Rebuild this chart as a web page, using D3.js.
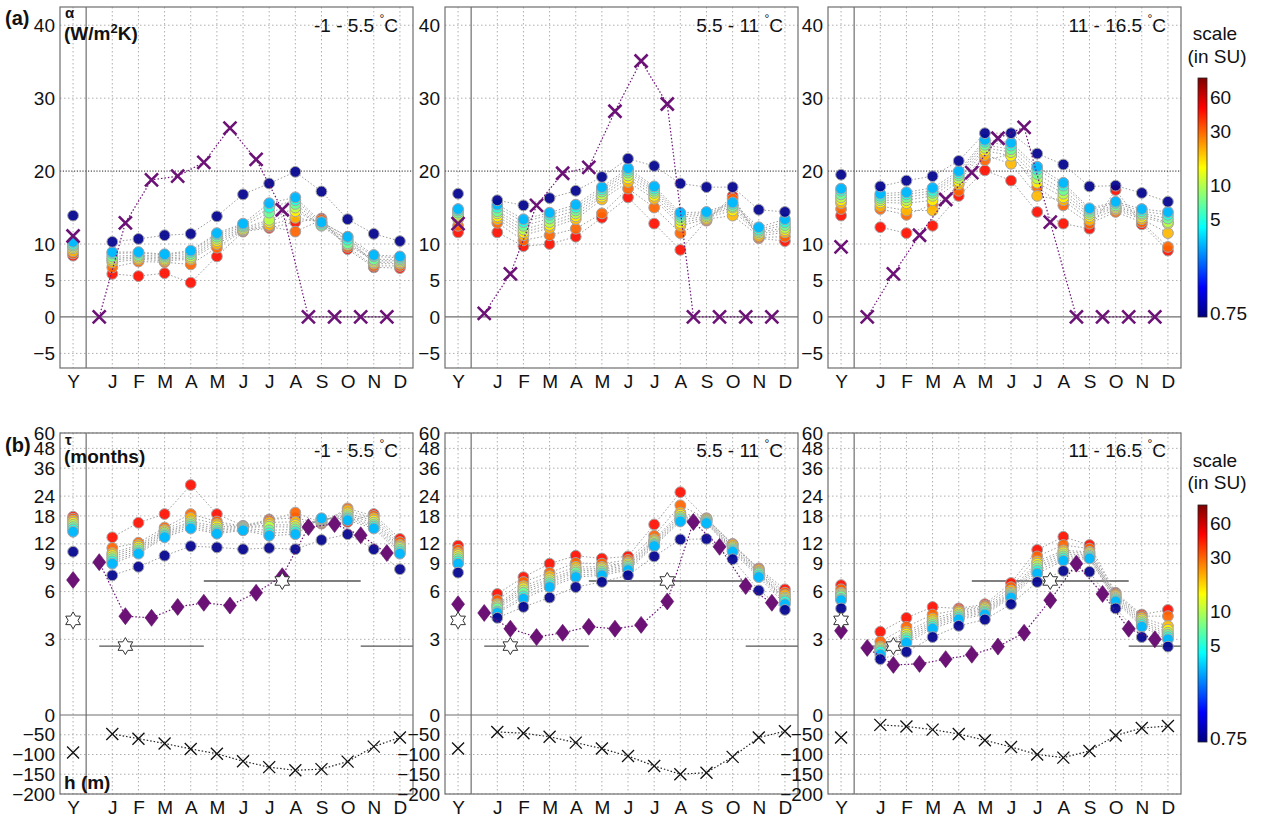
<!DOCTYPE html>
<html>
<head>
<meta charset="utf-8">
<script src="https://cdn.jsdelivr.net/npm/d3@7"></script>
<style>
  body { margin: 0; background: #fff; }
  svg { font-family: "Liberation Sans", Arial, Helvetica, sans-serif; }
</style>
</head>
<body>
<svg id="fig" width="1262" height="820"></svg>
<script>
//================== Data ==================
var months = ["Y", "J", "F", "M", "A", "M", "J", "J", "A", "S", "O", "N", "D"];
var monthPos = [-0.5, 1, 2, 3, 4, 5, 6, 7, 8, 9, 10, 11, 12];
var halfPos = [-0.5, 0.5, 1.5, 2.5, 3.5, 4.5, 5.5, 6.5, 7.5, 8.5, 9.5, 10.5, 11.5];
var scales = [0.75, 3, 5, 7, 10, 15, 20, 30, 45];          // SU, one per dot series
var ranges = ["-1 - 5.5", "5.5 - 11", "11 - 16.5"];
var alphaTicks = [40, 30, 20, 10, 5, 0, -5];
var tauTicks = [60, 48, 36, 24, 18, 12, 9, 6, 3];
var hTicks = [0, -50, -100, -150, -200];
var cbTicks = [60, 30, 10, 5, 0.75];

// alpha (W/m2K): rows = Y,J..D ; columns = scales
var alpha1 = [
  [13.9, 10.3, 10.0, 9.8, 9.6, 9.4, 9.0, 8.7, 8.4],
  [10.3, 8.9, 8.7, 8.3, 8.0, 7.8, 7.5, 6.8, 5.9],
  [10.7, 8.9, 8.8, 8.5, 8.3, 8.1, 7.9, 7.6, 5.6],
  [11.2, 8.6, 8.5, 8.3, 8.1, 7.9, 7.7, 7.5, 6.0],
  [11.4, 9.1, 8.9, 8.6, 8.3, 8.1, 7.9, 7.2, 4.7],
  [13.8, 11.5, 11.3, 11.0, 10.7, 10.4, 10.0, 9.5, 8.3],
  [16.8, 12.8, 12.6, 12.4, 12.2, 12.0, 11.9, 11.8, 11.7],
  [18.3, 15.6, 15.0, 14.3, 13.3, 13.0, 12.6, 12.4, 12.2],
  [19.9, 16.4, 16.0, 15.5, 15.0, 14.5, 13.6, 11.7, 13.0],
  [17.2, 13.0, 12.8, 12.6, 12.5, 12.7, 13.0, 13.3, 13.5],
  [13.4, 11.0, 10.6, 10.1, 9.9, 10.5, 11.0, 9.6, 9.3],
  [11.4, 8.5, 8.3, 7.9, 7.7, 7.5, 7.3, 7.0, 6.8],
  [10.4, 8.3, 8.1, 7.9, 7.7, 7.5, 7.3, 7.0, 6.7]
];
var alpha2 = [
  [16.9, 14.8, 14.6, 14.3, 14.0, 13.7, 13.4, 12.5, 11.6],
  [16.0, 15.4, 15.0, 14.5, 14.2, 13.8, 13.4, 12.9, 11.6],
  [15.3, 13.4, 13.0, 12.5, 12.0, 11.6, 11.2, 10.5, 9.7],
  [16.3, 14.3, 14.0, 13.5, 13.0, 12.6, 12.2, 11.2, 10.0],
  [17.3, 15.4, 15.0, 14.6, 14.2, 13.8, 13.4, 12.1, 11.0],
  [19.2, 17.8, 17.5, 17.2, 16.8, 16.5, 16.1, 14.2, 13.6],
  [21.7, 20.4, 20.1, 19.8, 19.4, 19.0, 18.5, 17.6, 16.4],
  [20.7, 17.9, 17.6, 17.3, 17.0, 16.6, 16.2, 15.0, 12.8],
  [18.3, 14.3, 14.0, 13.7, 13.3, 12.9, 12.5, 11.5, 9.2],
  [17.8, 14.4, 14.2, 14.0, 13.8, 13.6, 13.4, 13.3, 13.2],
  [17.8, 15.7, 15.5, 15.2, 15.0, 14.6, 13.9, 16.2, 16.6],
  [14.7, 12.3, 12.0, 11.8, 11.6, 11.4, 11.1, 10.9, 10.8],
  [14.4, 13.4, 13.0, 12.6, 12.2, 11.9, 11.6, 11.0, 10.4]
];
var alpha3 = [
  [19.5, 17.6, 17.3, 16.8, 16.4, 16.0, 15.6, 14.8, 13.9],
  [17.9, 16.9, 16.6, 16.3, 16.0, 15.7, 15.2, 14.8, 12.3],
  [18.7, 17.1, 16.8, 16.4, 16.0, 15.6, 14.6, 14.0, 11.5],
  [19.3, 17.7, 17.3, 17.0, 16.6, 16.0, 14.6, 15.4, 12.5],
  [21.4, 20.0, 19.7, 19.4, 19.0, 18.6, 18.2, 17.3, 16.6],
  [25.2, 24.3, 24.0, 23.6, 23.2, 22.8, 22.2, 21.5, 20.1],
  [25.2, 23.9, 23.5, 23.0, 22.6, 22.1, 21.0, 22.3, 18.7],
  [22.4, 20.6, 20.2, 19.6, 19.0, 18.4, 16.6, 17.8, 14.4],
  [20.9, 18.4, 18.0, 17.4, 16.9, 16.4, 16.0, 15.3, 12.8],
  [17.9, 14.9, 14.7, 14.4, 14.1, 13.8, 13.3, 12.8, 12.1],
  [18.0, 15.8, 15.6, 15.3, 15.1, 14.9, 14.7, 14.4, 17.4],
  [17.0, 14.8, 14.5, 14.2, 14.0, 13.7, 13.4, 13.0, 12.7],
  [15.8, 14.4, 14.0, 13.5, 13.0, 12.8, 11.5, 9.6, 9.1]
];

// tau (months): rows = Y,J..D ; columns = scales
var tau1 = [
  [10.7, 14.3, 14.8, 15.3, 15.8, 16.3, 16.8, 17.3, 17.8],
  [7.6, 9.0, 9.3, 9.6, 9.9, 10.2, 10.5, 11.3, 13.2],
  [8.6, 10.4, 10.6, 10.9, 11.2, 11.5, 11.8, 12.2, 16.3],
  [10.1, 13.2, 13.5, 13.8, 14.1, 14.4, 14.7, 15.2, 18.5],
  [11.6, 15.0, 15.4, 15.8, 16.2, 16.6, 17.5, 18.5, 28.2],
  [11.4, 13.9, 14.2, 14.6, 15.0, 15.5, 16.0, 16.6, 18.5],
  [11.1, 14.6, 14.8, 15.0, 15.2, 15.3, 15.4, 15.5, 15.6],
  [11.3, 13.5, 14.0, 14.6, 15.4, 15.8, 16.4, 16.8, 17.1],
  [11.1, 13.8, 14.3, 14.8, 15.3, 15.8, 16.5, 18.9, 17.5],
  [12.7, 17.4, 17.3, 17.1, 16.9, 16.7, 16.5, 16.3, 16.1],
  [13.8, 16.9, 17.3, 17.7, 18.2, 18.7, 19.5, 20.1, 16.5],
  [11.1, 15.0, 15.4, 15.8, 16.3, 16.8, 17.4, 18.0, 18.5],
  [8.3, 10.4, 10.7, 11.0, 11.3, 11.5, 11.8, 12.3, 12.9]
];
var tau2 = [
  [7.9, 9.0, 9.3, 9.6, 9.9, 10.2, 10.5, 11.0, 11.7],
  [4.1, 4.4, 4.5, 4.7, 4.8, 4.9, 5.0, 5.3, 5.8],
  [4.8, 5.4, 5.6, 5.9, 6.1, 6.3, 6.5, 6.9, 7.4],
  [5.5, 6.4, 6.6, 6.8, 7.0, 7.2, 7.5, 7.9, 9.0],
  [6.4, 7.4, 7.6, 7.9, 8.1, 8.3, 8.6, 9.1, 10.1],
  [6.9, 7.6, 7.8, 8.0, 8.2, 8.4, 8.6, 9.0, 9.7],
  [7.6, 8.2, 8.4, 8.6, 8.8, 9.0, 9.2, 9.5, 10.0],
  [10.0, 11.6, 11.8, 12.0, 12.3, 12.5, 12.8, 13.5, 15.9],
  [12.8, 16.6, 17.0, 17.4, 17.8, 18.3, 18.9, 21.0, 25.4],
  [12.9, 16.2, 16.4, 16.6, 16.8, 17.0, 17.2, 17.3, 17.4],
  [9.6, 10.7, 10.9, 11.1, 11.3, 11.5, 11.8, 11.9, 12.0],
  [6.1, 7.4, 7.6, 7.8, 7.9, 8.0, 8.2, 8.3, 8.4],
  [4.6, 5.0, 5.2, 5.3, 5.4, 5.5, 5.7, 5.9, 6.2]
];
var tau3 = [
  [4.7, 5.3, 5.4, 5.6, 5.7, 5.8, 5.9, 6.2, 6.6],
  [2.25, 2.4, 2.5, 2.55, 2.6, 2.65, 2.7, 2.9, 3.35],
  [2.5, 2.85, 2.95, 3.05, 3.15, 3.25, 3.35, 3.6, 4.1],
  [3.1, 3.5, 3.6, 3.7, 3.8, 3.9, 4.05, 4.3, 4.8],
  [3.65, 4.0, 4.1, 4.2, 4.3, 4.4, 4.5, 4.6, 4.7],
  [4.0, 4.3, 4.4, 4.5, 4.6, 4.7, 4.8, 4.9, 5.0],
  [5.0, 5.5, 5.6, 5.7, 5.8, 5.9, 6.1, 6.4, 6.8],
  [6.9, 7.8, 8.1, 8.4, 8.7, 9.0, 9.3, 10.0, 11.0],
  [8.1, 9.4, 9.7, 10.0, 10.3, 10.6, 10.9, 11.8, 13.3],
  [8.0, 9.7, 9.9, 10.1, 10.3, 10.5, 10.7, 11.2, 11.8],
  [4.7, 5.2, 5.3, 5.4, 5.5, 5.6, 5.7, 5.8, 5.9],
  [3.1, 3.6, 3.7, 3.8, 3.9, 4.0, 4.1, 4.2, 4.3],
  [2.7, 3.0, 3.1, 3.2, 3.3, 3.45, 3.64, 4.2, 4.6]
];

// purple crosses (alpha), at Y and half-month positions
var alphaX1 = [11.1, 0, 12.9, 18.8, 19.3, 21.2, 25.9, 21.6, 14.7, 0, 0, 0, 0];
var alphaX2 = [12.8, 0.5, 5.9, 15.3, 19.7, 20.5, 28.2, 35.1, 29.2, 0, 0, 0, 0];
var alphaX3 = [9.6, 0, 5.9, 11.2, 16.1, 19.8, 24.5, 26.0, 13.0, 0, 0, 0, 0];

// purple diamonds (tau), at Y and half-month positions
var tauD1 = [7.1, 9.2, 4.2, 4.1, 4.8, 5.1, 4.9, 5.9, 7.5, 15.3, 16.0, 13.6, 10.5];
var tauD2 = [5.0, 4.4, 3.5, 3.1, 3.3, 3.6, 3.5, 3.7, 5.2, 16.5, 11.5, 6.5, 5.1];
var tauD3 = [3.4, 2.65, 2.07, 2.1, 2.25, 2.4, 2.7, 3.3, 5.3, 9.0, 5.8, 3.5, 3.0];

// mixed layer depth h (m)
var depth1 = [-95, -48, -60, -72, -86, -98, -117, -132, -140, -137, -118, -80, -57];
var depth2 = [-85, -43, -46, -55, -70, -85, -104, -129, -150, -146, -106, -57, -41];
var depth3 = [-57, -25, -29, -37, -48, -64, -81, -100, -108, -91, -52, -33, -28];

// stars and step levels (tau)
var starPos = [-0.5, 1.5, 7.5];
var starTau = [3.95, 2.72, 7.0];
var stepFrom = [0.5, 4.5, 10.5];
var stepTo = [4.5, 10.5, 12.5];
var stepTau = [2.72, 7.0, 2.72];

var alphaAll = [alpha1, alpha2, alpha3];
var tauAll = [tau1, tau2, tau3];
var alphaXAll = [alphaX1, alphaX2, alphaX3];
var tauDAll = [tauD1, tauD2, tauD3];
var depthAll = [depth1, depth2, depth3];

//================== Layout ==================
var svg = d3.select("#fig");
var panelLeft = [60, 445, 828];
var panelW = 353;
var rowA = { top: 7, bottom: 368 };
var rowB = { top: 433, bottom: 794, split: 715 };
var purple = "#6c1277";
var fontSize = 19;

var x = d3.scaleLinear().domain([-1, 12.5]).range([0, panelW]);
var yA = d3.scaleLinear().domain([-7, 42.5]).range([rowA.bottom, rowA.top]);
var yTau = d3.scaleLog().domain([1, 60]).range([rowB.split, rowB.top]);
var yH = d3.scaleLinear().domain([0, -200]).range([rowB.split, rowB.bottom]);
var cbT = d3.scaleLog().domain([0.7, 88]).range([0, 1]);

function jet(t) {
  var c = function(v) { return Math.round(255 * Math.max(0, Math.min(1, v))); };
  var r = Math.min(4 * t - 1.5, -4 * t + 4.5);
  var g = Math.min(4 * t - 0.5, -4 * t + 3.5);
  var b = Math.min(4 * t + 0.5, -4 * t + 2.5);
  return "rgb(" + c(r) + "," + c(g) + "," + c(b) + ")";
}
var dotColor = function(s) { return jet(cbT(s)); };

// symbols
var crossPath = function(s) { return "M" + (-s) + "," + (-s) + "L" + s + "," + s + "M" + (-s) + "," + s + "L" + s + "," + (-s); };
var diamondPath = "M0,-8.5L6.5,0L0,8.5L-6.5,0Z";
function hexagram(R) {
  var pts = [];
  for (var i = 0; i < 12; i++) {
    var a = -Math.PI / 2 + i * Math.PI / 6;
    var rad = i % 2 ? R / Math.sqrt(3) : R;
    pts.push([rad * Math.cos(a), rad * Math.sin(a)]);
  }
  return "M" + pts.map(function(p) { return p[0].toFixed(2) + "," + p[1].toFixed(2); }).join("L") + "Z";
}

function styleAxis(a) {
  a.attr("font-size", fontSize).attr("font-family", null);
  a.select(".domain").remove();
  a.selectAll("text").attr("fill", "#111");
}

function titleText(g, label, xr, yb) {
  var t = g.append("text").attr("x", xr).attr("y", yb).attr("text-anchor", "end")
    .attr("font-size", fontSize).attr("fill", "#111");
  t.append("tspan").text(label + " ");
  t.append("tspan").attr("dy", -9).attr("font-size", 12).text("°");
  t.append("tspan").attr("dy", 9).text("C");
}

function grid(g, top, bottom, yVals, yFn) {
  g.selectAll("line.vgrid").data(monthPos).enter().append("line")
    .attr("x1", d => x(d)).attr("x2", d => x(d)).attr("y1", top).attr("y2", bottom)
    .attr("stroke", "#9a9a9a").attr("stroke-width", 0.8).attr("stroke-dasharray", "1.5,2.5");
  g.selectAll("line.hgrid").data(yVals).enter().append("line")
    .attr("x1", 0).attr("x2", panelW).attr("y1", d => yFn(d)).attr("y2", d => yFn(d))
    .attr("stroke", "#9a9a9a").attr("stroke-width", 0.8).attr("stroke-dasharray", "1.5,2.5");
}

function dots(g, table, yFn) {
  // connecting dotted lines J..D for each scale
  scales.forEach(function(s, k) {
    var pts = table.slice(1).map(function(row, i) { return [monthPos[i + 1], row[k]]; });
    g.append("path").datum(pts)
      .attr("d", d3.line().x(d => x(d[0])).y(d => yFn(d[1])))
      .attr("fill", "none").attr("stroke", "#9c9c9c").attr("stroke-width", 1)
      .attr("stroke-dasharray", "1.5,2");
  });
  var flat = [];
  for (var k = scales.length - 1; k >= 0; k--) {
    table.forEach(function(row, i) { flat.push({ p: monthPos[i], v: row[k], s: scales[k] }); });
  }
  g.selectAll("circle.dot").data(flat).enter().append("circle")
    .attr("cx", d => x(d.p)).attr("cy", d => yFn(d.v)).attr("r", 5.4)
    .attr("fill", d => dotColor(d.s)).attr("fill-opacity", 0.92)
    .attr("stroke", "#a4a4a4").attr("stroke-width", 1);
}

function frame(g, top, bottom) {
  g.append("line").attr("x1", x(0)).attr("x2", x(0)).attr("y1", top).attr("y2", bottom)
    .attr("stroke", "#6e6e6e").attr("stroke-width", 1.2);
  g.append("rect").attr("x", 0).attr("y", top).attr("width", panelW).attr("height", bottom - top)
    .attr("fill", "none").attr("stroke", "#6e6e6e").attr("stroke-width", 1.2);
}

//================== Row (a): alpha ==================
[0, 1, 2].forEach(function(p) {
  var g = svg.append("g").attr("transform", "translate(" + panelLeft[p] + ",0)");
  grid(g, rowA.top, rowA.bottom, alphaTicks.filter(d => d !== 0 && d !== 20), yA);
  g.append("line").attr("x1", 0).attr("x2", panelW).attr("y1", yA(20)).attr("y2", yA(20))
    .attr("stroke", "#222").attr("stroke-width", 1).attr("stroke-dasharray", "1.2,1.6");
  g.append("line").attr("x1", 0).attr("x2", panelW).attr("y1", yA(0)).attr("y2", yA(0))
    .attr("stroke", "#6e6e6e").attr("stroke-width", 1.2);

  dots(g, alphaAll[p], yA);

  // purple crosses
  var xs = alphaXAll[p].map((v, i) => [halfPos[i], v]);
  g.append("path").datum(xs.slice(1))
    .attr("d", d3.line().x(d => x(d[0])).y(d => yA(d[1])))
    .attr("fill", "none").attr("stroke", purple).attr("stroke-width", 1.2).attr("stroke-dasharray", "1.5,2");
  g.selectAll("path.px").data(xs).enter().append("path")
    .attr("transform", d => "translate(" + x(d[0]) + "," + yA(d[1]) + ")")
    .attr("d", crossPath(6.5)).attr("stroke", purple).attr("stroke-width", 2.6).attr("fill", "none");

  frame(g, rowA.top, rowA.bottom);

  g.append("g").call(d3.axisLeft(yA).tickValues(alphaTicks).tickSize(0).tickPadding(5)).call(styleAxis);
  g.append("g").attr("transform", "translate(0," + rowA.bottom + ")")
    .call(d3.axisBottom(x).tickValues(monthPos).tickFormat((d, i) => months[i]).tickSize(0).tickPadding(7))
    .call(styleAxis);

  titleText(g, ranges[p], panelW - 15, 32);
});

//================== Row (b): tau and h ==================
[0, 1, 2].forEach(function(p) {
  var g = svg.append("g").attr("transform", "translate(" + panelLeft[p] + ",0)");
  grid(g, rowB.top, rowB.bottom, tauTicks, yTau);
  g.selectAll("line.hg").data(hTicks.filter(d => d !== 0)).enter().append("line")
    .attr("x1", 0).attr("x2", panelW).attr("y1", d => yH(d)).attr("y2", d => yH(d))
    .attr("stroke", "#9a9a9a").attr("stroke-width", 0.8).attr("stroke-dasharray", "1.5,2.5");
  g.append("line").attr("x1", 0).attr("x2", panelW).attr("y1", yH(0)).attr("y2", yH(0))
    .attr("stroke", "#6e6e6e").attr("stroke-width", 1.2);

  // step levels
  stepTau.forEach(function(t, i) {
    g.append("line").attr("x1", x(stepFrom[i])).attr("x2", x(stepTo[i]))
      .attr("y1", yTau(t)).attr("y2", yTau(t))
      .attr("stroke", "#555").attr("stroke-width", 1.4);
  });

  dots(g, tauAll[p], yTau);

  // purple diamonds
  var ds = tauDAll[p].map((v, i) => [halfPos[i], v]);
  g.append("path").datum(ds.slice(1))
    .attr("d", d3.line().x(d => x(d[0])).y(d => yTau(d[1])))
    .attr("fill", "none").attr("stroke", purple).attr("stroke-width", 1.2).attr("stroke-dasharray", "1.5,2");
  g.selectAll("path.dm").data(ds).enter().append("path")
    .attr("transform", d => "translate(" + x(d[0]) + "," + yTau(d[1]) + ")")
    .attr("d", diamondPath).attr("fill", purple).attr("stroke", "#5a0c63").attr("stroke-width", 0.6);

  // stars
  g.selectAll("path.st").data(starPos).enter().append("path")
    .attr("transform", (d, i) => "translate(" + x(d) + "," + yTau(starTau[i]) + ")")
    .attr("d", hexagram(8.5)).attr("fill", "#fff").attr("stroke", "#333").attr("stroke-width", 1);

  // depth crosses
  var hs = depthAll[p].map((v, i) => [monthPos[i], v]);
  g.append("path").datum(hs.slice(1))
    .attr("d", d3.line().x(d => x(d[0])).y(d => yH(d[1])))
    .attr("fill", "none").attr("stroke", "#222").attr("stroke-width", 1.2).attr("stroke-dasharray", "1.5,2");
  g.selectAll("path.hx").data(hs).enter().append("path")
    .attr("transform", d => "translate(" + x(d[0]) + "," + yH(d[1]) + ")")
    .attr("d", crossPath(6)).attr("stroke", "#111").attr("stroke-width", 1.3).attr("fill", "none");

  frame(g, rowB.top, rowB.bottom);

  g.append("g").call(d3.axisLeft(yTau).tickValues(tauTicks).tickFormat(d3.format("d")).tickSize(0).tickPadding(5)).call(styleAxis);
  g.append("g").call(d3.axisLeft(yH).tickValues(hTicks).tickFormat(d3.format("d")).tickSize(0).tickPadding(5)).call(styleAxis);
  g.append("g").attr("transform", "translate(0," + rowB.bottom + ")")
    .call(d3.axisBottom(x).tickValues(monthPos).tickFormat((d, i) => months[i]).tickSize(0).tickPadding(7))
    .call(styleAxis);

  titleText(g, ranges[p], panelW - 15, 457);
});

//================== Labels ==================
var lab = svg.append("g").attr("fill", "#111").attr("font-weight", "bold");
lab.append("text").attr("x", 5).attr("y", 25).attr("font-size", 20).text("(a)");
lab.append("text").attr("x", 65).attr("y", 18).attr("font-size", 15).text("α");
var wl = lab.append("text").attr("x", 64).attr("y", 40).attr("font-size", fontSize);
wl.append("tspan").text("(W/m");
wl.append("tspan").attr("dy", -7).attr("font-size", 13).text("2");
wl.append("tspan").attr("dy", 7).text("K)");
lab.append("text").attr("x", 5).attr("y", 452).attr("font-size", 20).text("(b)");
lab.append("text").attr("x", 65).attr("y", 445).attr("font-size", 15).text("τ");
lab.append("text").attr("x", 64).attr("y", 463).attr("font-size", fontSize).text("(months)");
lab.append("text").attr("x", 64).attr("y", 789).attr("font-size", fontSize).text("h (m)");

//================== Colorbars ==================
var defs = svg.append("defs");
var grad = defs.append("linearGradient").attr("id", "jetGrad")
  .attr("x1", 0).attr("y1", 1).attr("x2", 0).attr("y2", 0);
d3.range(0, 1.0001, 1 / 64).forEach(function(t) {
  grad.append("stop").attr("offset", t).attr("stop-color", jet(t));
});

[{ top: 78, bottom: 317, t1: 40, t2: 63 }, { top: 505, bottom: 742, t1: 467, t2: 489 }].forEach(function(cb) {
  var cy = d3.scaleLog().domain([0.7, 88]).range([cb.bottom, cb.top]);
  var g = svg.append("g").attr("transform", "translate(1198,0)");
  g.append("rect").attr("x", 0).attr("y", cb.top).attr("width", 9).attr("height", cb.bottom - cb.top)
    .attr("fill", "url(#jetGrad)").attr("stroke", "#222").attr("stroke-width", 0.8);
  g.append("g").attr("transform", "translate(9,0)")
    .call(d3.axisRight(cy).tickValues(cbTicks).tickFormat(d => String(d)).tickSize(0).tickPadding(3))
    .call(styleAxis);
  g.append("text").attr("x", 17).attr("y", cb.t1).attr("text-anchor", "middle").attr("font-size", fontSize).attr("fill", "#111").text("scale");
  g.append("text").attr("x", 19).attr("y", cb.t2).attr("text-anchor", "middle").attr("font-size", fontSize).attr("fill", "#111").text("(in SU)");
});
</script>
</body>
</html>
